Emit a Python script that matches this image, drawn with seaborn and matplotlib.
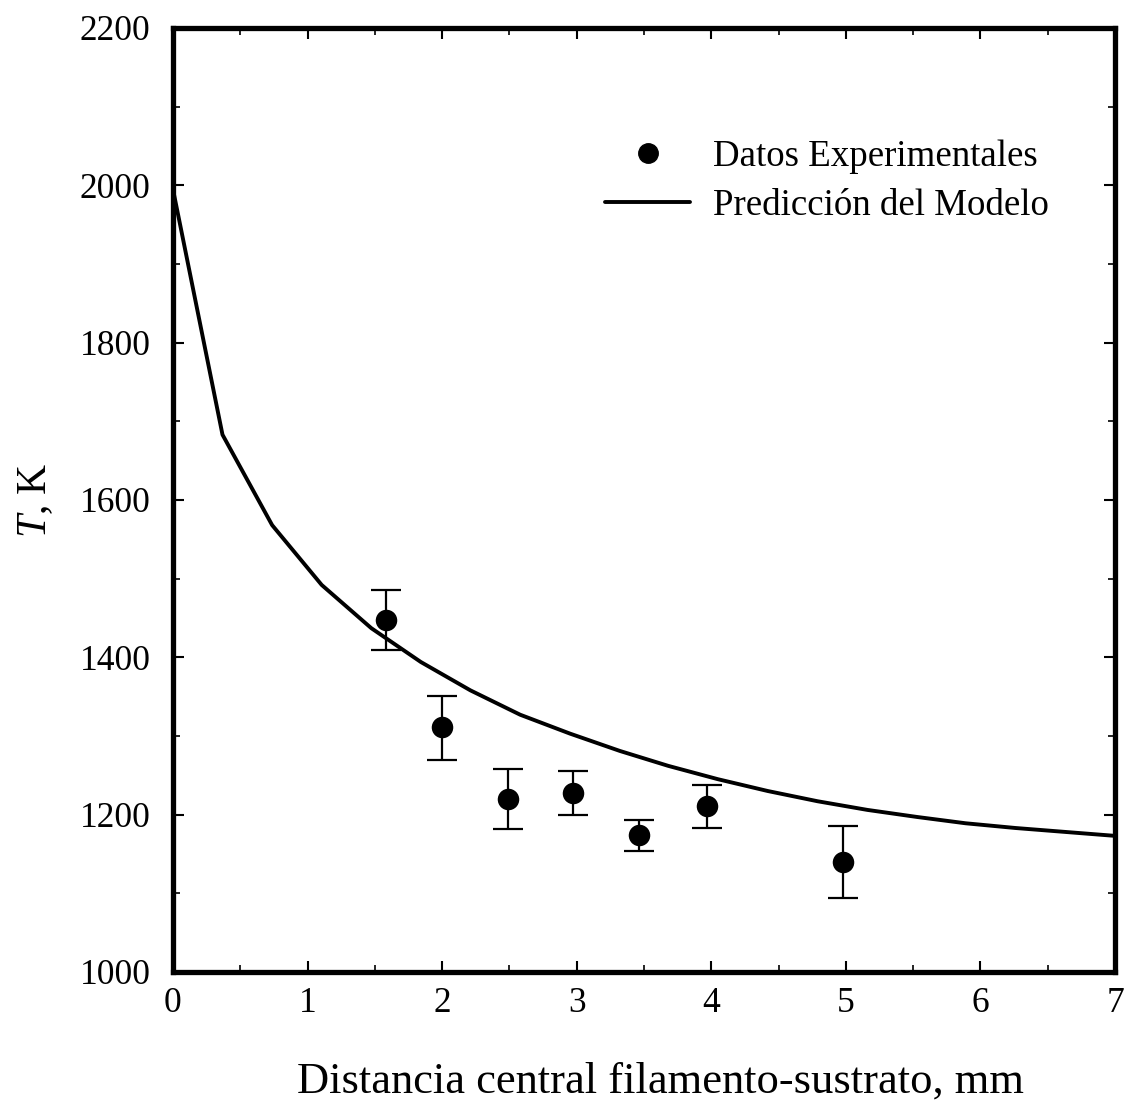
import numpy as np
import pandas as pd
import matplotlib
matplotlib.use("Agg")
import matplotlib.pyplot as plt
import seaborn as sns
from matplotlib.ticker import MultipleLocator
from matplotlib.lines import Line2D

# Model prediction
model_x = [0.0, 0.368, 0.737, 1.105, 1.474, 1.842, 2.21, 2.58, 2.95, 3.32,
           3.68, 4.05, 4.42, 4.79, 5.16, 5.53, 5.89, 6.26, 6.63, 7.0]
model_T = [1995, 1683, 1568, 1492, 1437, 1394, 1358, 1327, 1303, 1281,
           1262, 1245, 1230, 1217, 1206, 1197, 1189, 1183, 1178, 1173]

# Experimental data
exp_x = [1.58, 2.0, 2.49, 2.97, 3.46, 3.97, 4.98]
exp_T = [1448, 1311, 1220, 1228, 1174, 1211, 1140]
err_low = [39, 41, 38, 29, 20, 28, 46]
err_high = [38, 40, 38, 27, 19, 27, 46]

sns.set_theme(style="white")
plt.rcParams['font.family'] = ['Liberation Serif', 'DejaVu Serif']
plt.rcParams['mathtext.fontset'] = 'custom'
plt.rcParams['mathtext.rm'] = 'Liberation Serif'
plt.rcParams['mathtext.it'] = 'Liberation Serif:italic'
plt.rcParams['text.color'] = 'black'
plt.rcParams['axes.labelcolor'] = 'black'
plt.rcParams['xtick.color'] = 'black'
plt.rcParams['ytick.color'] = 'black'

fig = plt.figure(figsize=(11.29, 11.06), dpi=100)
ax = fig.add_axes([0.1532, 0.1212, 0.8344, 0.8535])

df_model = pd.DataFrame({"x": model_x, "T": model_T})
df_exp = pd.DataFrame({"x": exp_x, "T": exp_T})

sns.lineplot(data=df_model, x="x", y="T", ax=ax, color="black", linewidth=2.8,
             sort=False, zorder=2)
ax.errorbar(exp_x, exp_T, yerr=[err_low, err_high], fmt='none', ecolor='black',
            elinewidth=1.6, capsize=11, capthick=1.6, zorder=3)
sns.scatterplot(data=df_exp, x="x", y="T", ax=ax, color="black", s=240,
                edgecolor="black", linewidth=0, zorder=4)

ax.set_xlim(0, 7)
ax.set_ylim(1000, 2200)
ax.xaxis.set_major_locator(MultipleLocator(1))
ax.xaxis.set_minor_locator(MultipleLocator(0.5))
ax.yaxis.set_major_locator(MultipleLocator(200))
ax.yaxis.set_minor_locator(MultipleLocator(100))

for s in ax.spines.values():
    s.set_linewidth(3.8)
    s.set_color('black')
    s.set_visible(True)

ax.tick_params(which='both', direction='in', top=True, right=True,
               bottom=True, left=True, colors='black', labelcolor='black',
               labelsize=25.5)
ax.tick_params(which='major', length=8, width=1.5)
ax.tick_params(which='minor', length=5, width=1.2)
ax.tick_params(axis='x', which='major', pad=11)
ax.tick_params(axis='y', which='major', pad=16)

ax.set_xlabel("Distancia central filamento-sustrato, mm", fontsize=32,
              labelpad=30, color='black', x=0.518)
ax.set_ylabel(r"$\mathit{T}$, K", fontsize=30, labelpad=18, color='black')

handles = [
    Line2D([], [], marker='o', color='black', linestyle='none', markersize=14),
    Line2D([], [], color='black', linewidth=2.8),
]
leg = ax.legend(handles, ["Datos Experimentales", "Predicción del Modelo"],
                loc='upper right', bbox_to_anchor=(0.945, 0.898), frameon=False,
                fontsize=26.6, handlelength=2.3, handletextpad=0.6,
                labelspacing=0.4, borderaxespad=0)
for t in leg.get_texts():
    t.set_color('black')

fig.savefig("out.png", dpi=100)
